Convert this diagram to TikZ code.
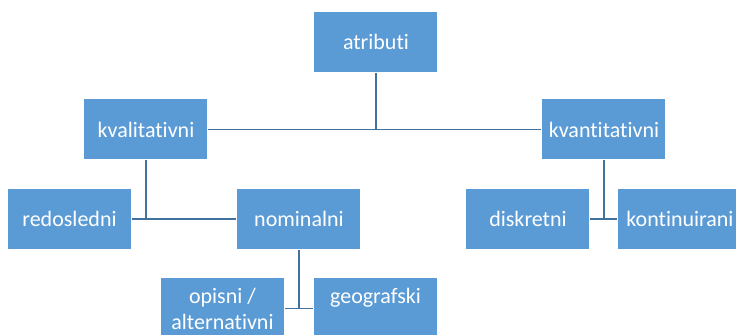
\documentclass[tikz,border=0pt]{standalone}
\usepackage{fontspec}
\setmainfont{Carlito}[Ligatures={NoCommon,NoRare,NoContextual}]
\usepackage{tikz}
\usetikzlibrary{arrows.meta,positioning,calc}

\definecolor{boxblue}{HTML}{5B9BD5}
\definecolor{wireblue}{HTML}{41719C}

\begin{document}
\begin{tikzpicture}[
    x=0.5pt, y=-0.5pt,
    box/.style={draw=white, line width=0.5pt, fill=boxblue, text=white, minimum width=62pt, minimum height=30.5pt,
      inner sep=1pt, align=center, font=\fontsize{11}{13}\selectfont},
    wire/.style={line width=0.8pt, wireblue}
  ]
  \useasboundingbox (0,0) rectangle (736,335);
  \clip (0,0) rectangle (736,335);

  \node[box] (atr) at (376,42) {atributi};

  \node[box] (kval) at (146,129.5) {kvalitativni};
  \node[box] (kvant) at (604,129.5) {kvantitativni};

  \node[box] (red) at (69.5,219) {redosledni};
  \node[box] (nom) at (299,219) {nominalni};
  \node[box] (disk) at (528,219) {diskretni};
  \node[box] (kont) at (680,219) {kontinuirani};

  \node[box] (opis) at (222.5,308.5) {opisni /\\alternativni};
  \node[box] (geo) at (375.5,308.5) {geografski\\\mbox{}};

  \draw[wire] (kval.east) -- (kvant.west);
  \draw[wire] (atr.south) -- (atr.south |- kval.east);

  \draw[wire] (red.east) -- (nom.west);
  \draw[wire] (kval.south) -- (kval.south |- red.east);

  \draw[wire] (disk.east) -- (kont.west);
  \draw[wire] (kvant.south) -- (kvant.south |- disk.east);

  \draw[wire] (opis.east) -- (geo.west);
  \draw[wire] (nom.south) -- (nom.south |- opis.east);
\end{tikzpicture}
\end{document}
